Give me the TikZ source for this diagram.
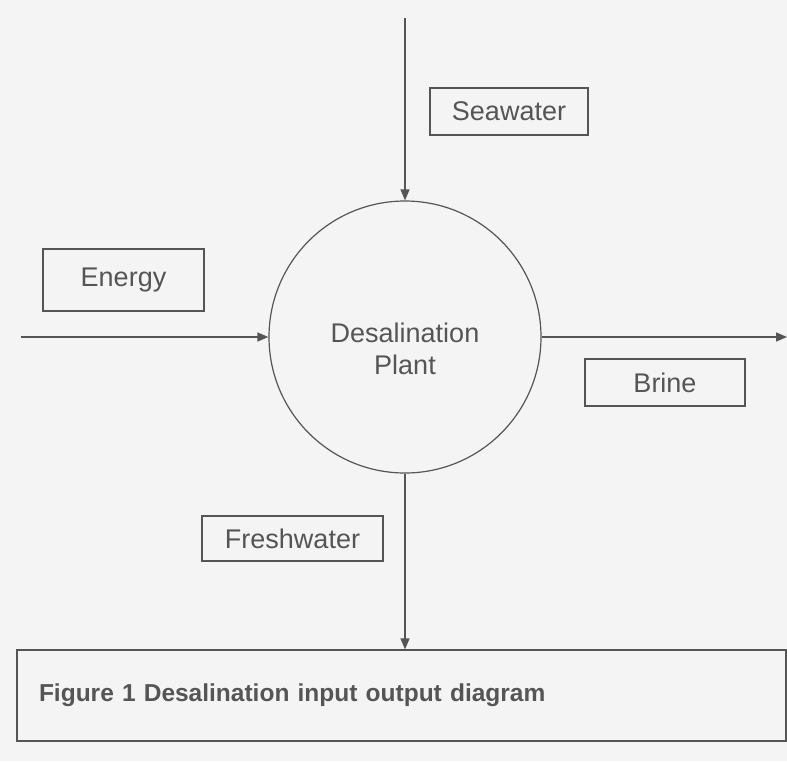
\documentclass[tikz,border=0pt]{standalone}
\usepackage{fontspec}
\setmainfont{Liberation Sans}
\usetikzlibrary{calc,arrows.meta,positioning}
\definecolor{ink}{RGB}{85,85,85}
\definecolor{paper}{RGB}{244,244,244}

\begin{document}
\begin{tikzpicture}[x=1pt, y=-1pt,
    flow/.style={draw=ink, line width=1.3pt, -{Triangle[length=11pt,width=9pt]}},
    tag/.style={draw=ink, line width=1.2pt, text=ink, font=\fontsize{27}{32}\selectfont, inner sep=0pt},
    ring/.style={circle, draw=ink, line width=1.2pt, minimum size=272pt, inner sep=0pt}]
    \fill[paper] (0,0) rectangle (787,761);
    \useasboundingbox (0,0) rectangle (787,761);
    % plant in the middle
    \node[ring] (plant) at (405,337) {};
    \node[text=ink, font=\fontsize{27}{32}\selectfont, align=center] (plantname) at ([yshift=-12pt]plant.center) {Desalination\\Plant};
    % label boxes
    \node[tag, minimum width=158pt, minimum height=47pt] (seawater) at (509,111.5) {Seawater};
    \node[tag, minimum width=161pt, minimum height=62pt] (energy) at (123.5,280) {Energy};
    \node[tag, minimum width=160pt, minimum height=47pt] (brine) at (665,382.5) {Brine};
    \node[tag, minimum width=181pt, minimum height=45pt] (freshwater) at (292.5,538.5) {Freshwater};
    \node[draw=ink, line width=1.2pt, minimum width=769pt, minimum height=91pt, text width=725pt, align=left,
          text=ink, font=\fontsize{24.5}{28}\selectfont\bfseries, inner xsep=22pt] (caption) at (401.5,695.5)
          {Figure 1 Desalination input output diagram};
    % free ends
    \coordinate (seain) at (405,18);
    \coordinate (energyin) at (21,337);
    \coordinate (brineout) at (787,337);
    % flows
    \draw[flow] (seain) -- (plant.north);
    \draw[flow] (energyin) -- (plant.west);
    \draw[flow] (plant.east) -- (brineout);
    \draw[flow] (plant.south) -- (plant.south |- caption.north);
\end{tikzpicture}
\end{document}
